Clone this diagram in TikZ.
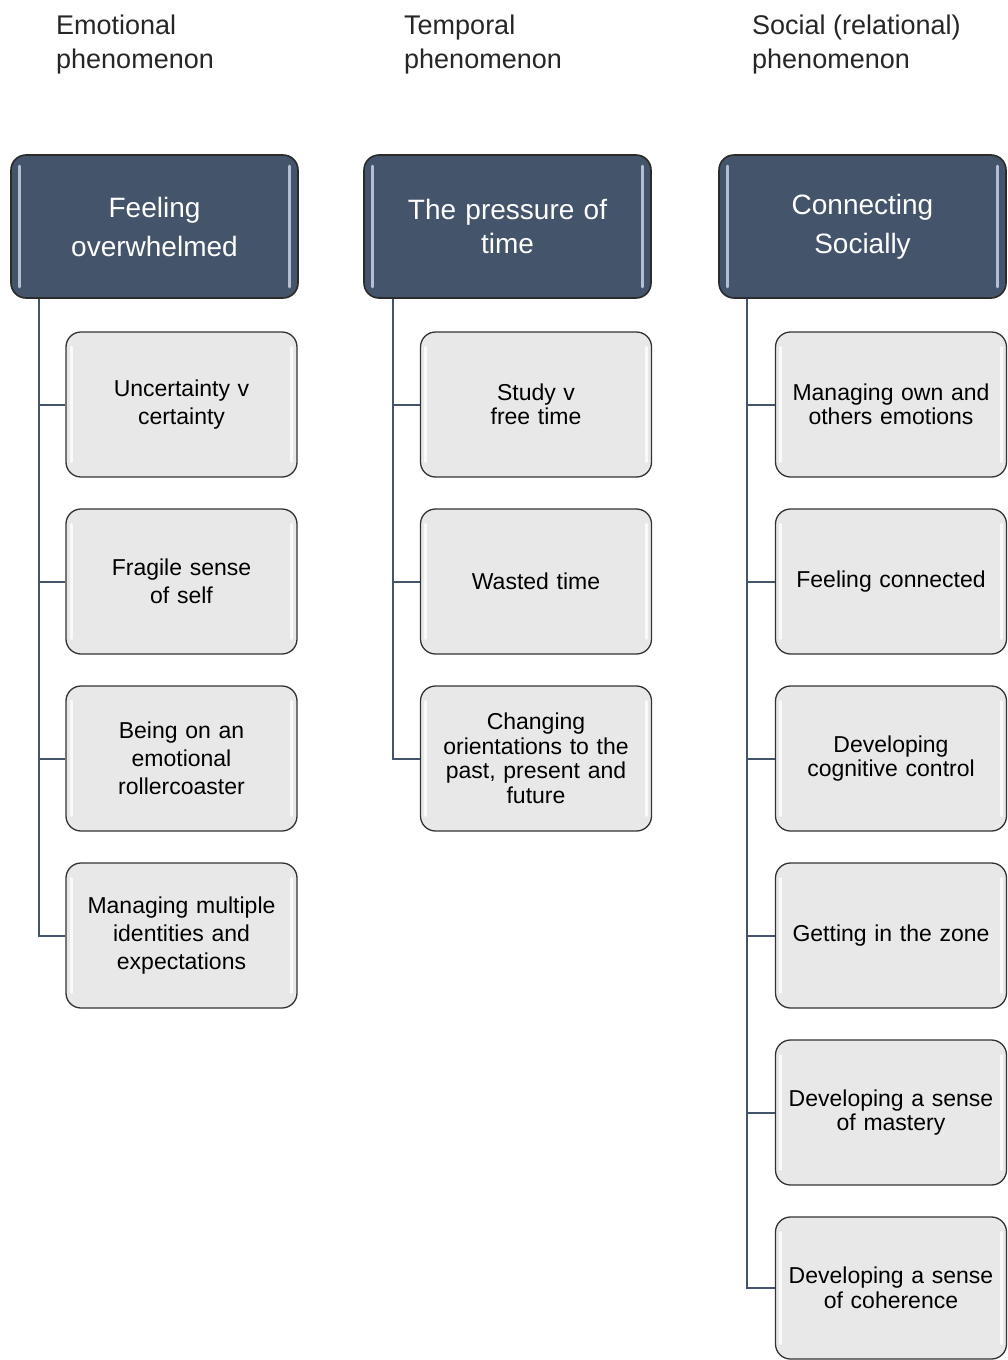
\documentclass[tikz,border=0pt]{standalone}
\usepackage{fontspec}
\setmainfont{Liberation Sans}
\usetikzlibrary{calc}
\definecolor{hdrfill}{HTML}{44546A}
\definecolor{hdrline}{HTML}{2B2B2B}
\definecolor{hilite}{HTML}{B4C0D2}
\definecolor{kidfill}{HTML}{E8E8E8}
\definecolor{kidline}{HTML}{333333}
\definecolor{labtext}{HTML}{262626}
\begin{document}
\begin{tikzpicture}[x=1pt,y=-1pt,
  hdr/.style={draw=hdrline, line width=1.6pt, fill=hdrfill, rounded corners=15pt,
    minimum width=287pt, minimum height=143pt, inner sep=0pt, text=white,
    font=\fontsize{28}{39}\selectfont, align=center, text width=230pt},
  kid/.style={draw=kidline, line width=1.3pt, fill=kidfill, rounded corners=15pt,
    minimum width=231pt, minimum height=145pt, inner sep=0pt, text=black,
    font=\fontsize{23}{24.5}\selectfont, align=center, text width=215pt},
  kidA/.style={kid, font=\fontsize{23}{28}\selectfont},
  conn/.style={draw=hdrfill, line width=2pt},
  phen/.style={anchor=north west, inner sep=0pt, align=left, text=labtext,
    font=\fontsize{27}{34}\selectfont},
  hl/.style={draw=hilite, line width=3pt, line cap=round},
  khl/.style={draw=white, line width=3pt, line cap=round, opacity=0.8}
]
\useasboundingbox (0,0) rectangle (1008,1360);

% phenomenon labels
\node[phen] (p1) at (56,15) {Emotional\\phenomenon};
\node[phen] (p2) at (404,15) {Temporal\\phenomenon};
\node[phen] (p3) at (752,15) {Social (relational)\\phenomenon};

% headers
\node[hdr] (h1) at (154.5,226.5) {Feeling\\overwhelmed};
\node[hdr, font=\fontsize{28}{34}\selectfont] (h2) at (507.5,226.5) {The pressure of\\time};
\node[hdr] (h3) at (862.5,226.5) {Connecting\\Socially};

% column 1
\node[kidA] (c11) at (181.5,404.5) {Uncertainty v\\certainty};
\node[kidA] (c12) at (181.5,581.5) {Fragile sense\\of self};
\node[kidA] (c13) at (181.5,758.5) {Being on an\\emotional\\rollercoaster};
\node[kidA] (c14) at (181.5,935.5) {Managing multiple\\identities and\\expectations};

% column 2
\node[kid] (c21) at (536,404.5) {Study v\\free time};
\node[kid] (c22) at (536,581.5) {Wasted time};
\node[kid] (c23) at (536,758.5) {Changing\\orientations to the\\past, present and\\future};

% column 3
\node[kid] (c31) at (891,404.5) {Managing own and\\others emotions};
\node[kid] (c32) at (891,581.5) {Feeling connected};
\node[kid] (c33) at (891,758.5) {Developing\\cognitive control};
\node[kid] (c34) at (891,935.5) {Getting in the zone};
\node[kid] (c35) at (891,1112.5) {Developing a sense\\of mastery};
\node[kid, minimum height=142pt] (c36) at (891,1288) {Developing a sense\\of coherence};

% highlights on headers
\foreach \n in {h1,h2,h3}{
  \draw[hl] ($(\n.north west)+(9,12)$) -- ($(\n.south west)+(9,-12)$);
  \draw[hl] ($(\n.north east)+(-9,12)$) -- ($(\n.south east)+(-9,-12)$);
}
% highlights on children
\foreach \n in {c11,c12,c13,c14,c21,c22,c23,c31,c32,c33,c34,c35,c36}{
  \draw[khl] ($(\n.north west)+(6,16)$) -- ($(\n.south west)+(6,-16)$);
  \draw[khl] ($(\n.north east)+(-6,16)$) -- ($(\n.south east)+(-6,-16)$);
}

% connectors
\coordinate (t1) at ($(h1.south west)+(29,0)$);
\coordinate (t2) at ($(h2.south west)+(30,0)$);
\coordinate (t3) at ($(h3.south west)+(29,0)$);
\draw[conn] (t1) |- (c14.west);
\foreach \n in {c11,c12,c13}{\draw[conn] (t1 |- \n.west) -- (\n.west);}
\draw[conn] (t2) |- (c23.west);
\foreach \n in {c21,c22}{\draw[conn] (t2 |- \n.west) -- (\n.west);}
\draw[conn] (t3) |- (c36.west);
\foreach \n in {c31,c32,c33,c34,c35}{\draw[conn] (t3 |- \n.west) -- (\n.west);}
\end{tikzpicture}
\end{document}
